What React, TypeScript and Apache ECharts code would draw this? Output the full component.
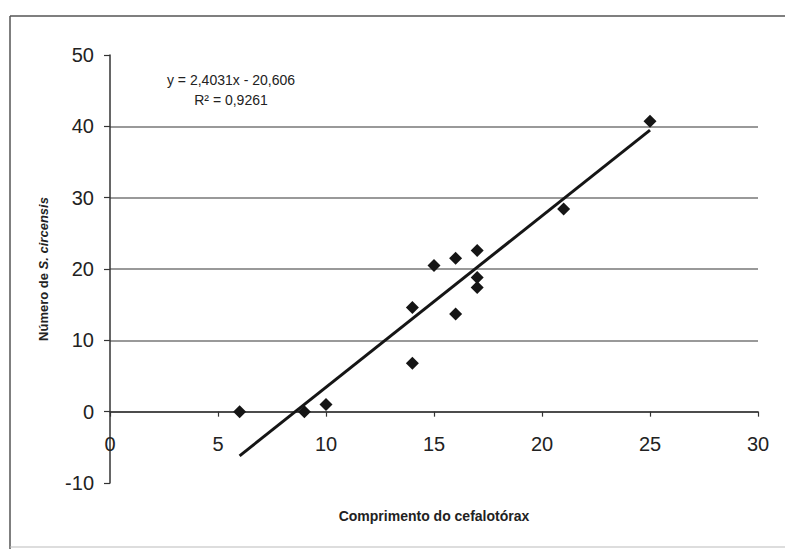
import React, { useEffect, useRef } from "react";
import * as echarts from "echarts";

const xTicks = { min: 0, max: 30, interval: 5 };
const yTicks = { min: -10, max: 50, interval: 10 };

const lengthValues = [6, 9, 10, 14, 14, 15, 16, 16, 17, 17, 17, 21, 25];
const countValues = [0, 0, 1, 14.6, 6.8, 20.5, 21.5, 13.7, 22.6, 18.8, 17.4, 28.4, 40.7];

const trendX = [6, 25];
const trendY = [-6.19, 39.47];

const equationText = "y = 2,4031x - 20,606";
const r2Text = "R² = 0,9261";
const xTitle = "Comprimento do cefalotórax";
const yTitleA = "Número de ";
const yTitleB = "S. circensis";

export default function App() {
  const ref = useRef<HTMLDivElement>(null);

  useEffect(() => {
    if (!ref.current) return;
    const chart = echarts.init(ref.current, null, { renderer: "svg" });
    const font = "'Liberation Sans', Arial, sans-serif";
    const points = lengthValues.map((x, i) => [x, countValues[i]]);
    const trend = trendX.map((x, i) => [x, trendY[i]]);
    const gridHeight = 428;
    // distance from the bottom of the grid (y = min) up to y = 0
    const zeroOffset = (gridHeight * (0 - yTicks.min)) / (yTicks.max - yTicks.min);

    chart.setOption({
      animation: false,
      backgroundColor: "#ffffff",
      grid: {
        left: 110,
        top: 55,
        width: 648,
        height: gridHeight,
        containLabel: false,
        outerBoundsMode: "none",
      },
      xAxis: {
        type: "value",
        position: "bottom",
        offset: -zeroOffset,
        min: xTicks.min,
        max: xTicks.max,
        interval: xTicks.interval,
        axisLine: { show: true, onZero: false, lineStyle: { color: "#333", width: 1.5 } },
        axisTick: { show: true, inside: false, length: 5, lineStyle: { color: "#333", width: 1.2 } },
        axisLabel: { fontSize: 20, color: "#222", margin: 22, fontFamily: font },
        splitLine: { show: false },
        name: xTitle,
        nameLocation: "middle",
        nameGap: 97,
        nameTextStyle: { fontSize: 14, fontWeight: "bold", color: "#222", fontFamily: font },
      },
      yAxis: {
        type: "value",
        min: yTicks.min,
        max: yTicks.max,
        interval: yTicks.interval,
        axisLine: { show: true, onZero: false, lineStyle: { color: "#333", width: 1.5 } },
        axisTick: { show: true, inside: false, length: 6, lineStyle: { color: "#333", width: 1.2 } },
        axisLabel: { fontSize: 20, color: "#222", margin: 16, fontFamily: font },
        splitLine: {
          show: true,
          showMinLine: false,
          showMaxLine: false,
          lineStyle: { color: "#777", width: 1.5 },
        },
        name: `{a|${yTitleA}}{b|${yTitleB}}`,
        nameLocation: "middle",
        nameGap: 60,
        nameTextStyle: {
          fontSize: 13,
          color: "#222",
          fontFamily: font,
          rich: {
            a: { fontSize: 13, fontWeight: "bold", color: "#222", fontFamily: font },
            b: { fontSize: 13, fontWeight: "bold", fontStyle: "italic", color: "#222", fontFamily: font },
          },
        },
      },
      graphic: [
        {
          type: "line",
          shape: { x1: 10, y1: 16, x2: 785, y2: 16 },
          style: { stroke: "#555", lineWidth: 1.5 },
          silent: true,
        },
        {
          type: "line",
          shape: { x1: 10, y1: 16, x2: 10, y2: 549 },
          style: { stroke: "#555", lineWidth: 1.5 },
          silent: true,
        },
        {
          type: "line",
          shape: { x1: 10, y1: 547, x2: 785, y2: 547 },
          style: { stroke: "#bbb", lineWidth: 1 },
          silent: true,
        },
        {
          type: "text",
          x: 231,
          y: 80,
          style: {
            text: equationText,
            fontSize: 14,
            fontFamily: font,
            fill: "#222",
            align: "center",
            verticalAlign: "middle",
          },
          silent: true,
        },
        {
          type: "text",
          x: 231,
          y: 100,
          style: {
            text: r2Text,
            fontSize: 14,
            fontFamily: font,
            fill: "#222",
            align: "center",
            verticalAlign: "middle",
          },
          silent: true,
        },
      ],
      series: [
        {
          type: "scatter",
          data: points,
          symbol: "diamond",
          symbolSize: 13,
          itemStyle: { color: "#151515", opacity: 1 },
          z: 3,
        },
        {
          type: "line",
          data: trend,
          symbol: "none",
          lineStyle: { color: "#151515", width: 3 },
          z: 4,
        },
      ],
    });

    return () => chart.dispose();
  }, []);

  return (
    <div
      ref={ref}
      style={{ position: "fixed", left: 0, top: 0, width: 785, height: 549 }}
    />
  );
}
